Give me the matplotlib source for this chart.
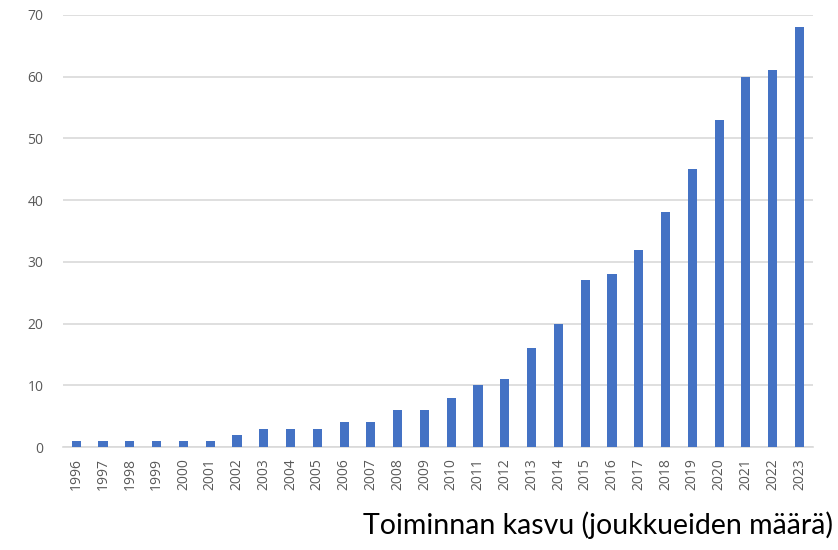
import matplotlib.pyplot as plt
import numpy as np

# Team counts per year
years = [str(y) for y in range(1996, 2024)]
teams = [1, 1, 1, 1, 1, 1, 2, 3, 3, 3, 4, 4, 6, 6, 8, 10, 11, 16, 20, 27,
         28, 32, 38, 45, 53, 60, 61, 68]
yticks = [0, 10, 20, 30, 40, 50, 60, 70]
title = "Toiminnan kasvu (joukkueiden määrä)"

fig = plt.figure(figsize=(8.38, 5.5), dpi=100)
ax = fig.add_axes([0.075, 0.187, 0.895, 0.786])

x = np.arange(len(years))
ax.bar(x, teams, width=0.34, color="#4472C4", zorder=3)

ax.set_xlim(-0.5, len(years) - 0.5)
ax.set_ylim(0, 70)
ax.set_yticks(yticks)
ax.set_xticks(x)
ax.set_xticklabels(years, rotation=90)

ax.yaxis.grid(True, color="#d9d9d9", linewidth=1.2, zorder=0)
for s in ["top", "right", "left"]:
    ax.spines[s].set_visible(False)
ax.spines["bottom"].set_color("#d9d9d9")
ax.spines["bottom"].set_linewidth(1.2)
ax.tick_params(axis="both", length=0, colors="#595959", labelsize=10, pad=8)
ax.tick_params(axis="y", pad=14)
for lab in ax.get_xticklabels() + ax.get_yticklabels():
    lab.set_family("Open Sans")

fig.text(0.994, 0.02, title, ha="right", va="bottom", fontsize=20.5,
         family="Lato", color="black")

fig.savefig("out.png", dpi=100)
